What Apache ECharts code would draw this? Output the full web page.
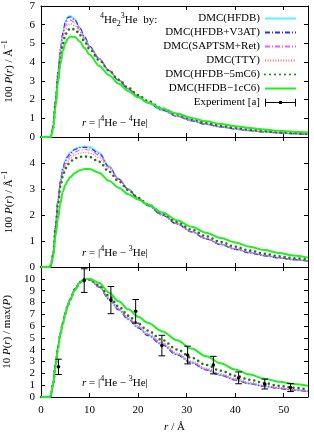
<!DOCTYPE html>
<html><head><meta charset="utf-8">
<script src="https://cdn.jsdelivr.net/npm/echarts@6/dist/echarts.min.js"></script>
<style>html,body{margin:0;padding:0;background:#fff}#c{width:314px;height:432px}</style>
</head><body><div id="c"></div>
<script>
// r grid (Å)
const R = [0,1,1.8,2,2.5,3,3.5,4,4.5,5,5.5,6,7,8,9,10,12,14,16,18,20,22,25,28,31,34,37,40,43,46,49,52,55];

// Panel 1: 100 P(r), r = |4He-4He|
const hfdb1 = [0,0,0,0,0.6,2.0,3.5,4.7,5.6,6.15,6.42,6.48,6.3,5.85,5.35,4.85,4.2,3.55,3.02,2.55,2.15,1.82,1.42,1.1,0.86,0.67,0.53,0.42,0.33,0.27,0.21,0.17,0.14];
const v3at1 = [0,0,0,0,0.6,2.0,3.5,4.68,5.55,6.1,6.37,6.42,6.25,5.82,5.33,4.85,4.18,3.55,3.02,2.56,2.16,1.83,1.43,1.11,0.87,0.68,0.54,0.43,0.34,0.27,0.22,0.18,0.14];
const sapt1 = [0,0,0,0,0.58,1.95,3.4,4.55,5.4,5.92,6.18,6.25,6.12,5.72,5.27,4.82,4.17,3.56,3.04,2.58,2.18,1.85,1.45,1.13,0.89,0.7,0.55,0.44,0.35,0.28,0.22,0.18,0.15];
const tty1 = [0,0,0,0,0.55,1.9,3.3,4.42,5.22,5.72,5.98,6.05,5.95,5.6,5.2,4.78,4.15,3.56,3.05,2.6,2.2,1.87,1.47,1.15,0.9,0.71,0.56,0.45,0.36,0.29,0.23,0.19,0.15];
const m5c6_1 = [0,0,0,0,0.5,1.8,3.15,4.2,4.95,5.45,5.7,5.8,5.75,5.45,5.08,4.7,4.1,3.55,3.06,2.62,2.24,1.92,1.52,1.2,0.95,0.76,0.6,0.49,0.39,0.32,0.26,0.21,0.17];
const c1c6_1 = [0,0,0,0,0.4,1.6,2.9,3.9,4.6,5.0,5.25,5.36,5.35,5.1,4.75,4.4,3.8,3.3,2.85,2.45,2.12,1.85,1.52,1.25,1.02,0.84,0.7,0.58,0.48,0.4,0.33,0.28,0.24];

// Panel 2: 100 P(r), r = |4He-3He|
const hfdb2 = [0,0,0,0.05,0.5,1.6,2.6,3.35,3.8,4.1,4.28,4.4,4.55,4.62,4.64,4.62,4.4,3.88,3.4,3.0,2.64,2.37,2.0,1.66,1.36,1.09,0.87,0.69,0.55,0.44,0.35,0.28,0.22];
const v3at2 = [0,0,0,0.05,0.5,1.6,2.58,3.32,3.78,4.07,4.25,4.37,4.52,4.59,4.6,4.58,4.36,3.85,3.38,2.98,2.63,2.36,1.99,1.65,1.35,1.08,0.86,0.68,0.54,0.43,0.35,0.28,0.22];
const sapt2 = [0,0,0,0.05,0.5,1.57,2.53,3.25,3.7,3.98,4.16,4.28,4.43,4.5,4.52,4.5,4.3,3.84,3.4,3.0,2.66,2.38,2.02,1.67,1.37,1.1,0.88,0.7,0.56,0.45,0.36,0.29,0.23];
const tty2 = [0,0,0,0.05,0.48,1.53,2.47,3.17,3.6,3.88,4.05,4.17,4.31,4.38,4.4,4.38,4.2,3.78,3.36,2.98,2.66,2.39,2.04,1.68,1.37,1.1,0.89,0.71,0.57,0.46,0.37,0.29,0.23];
const m5c6_2 = [0,0,0,0.05,0.47,1.5,2.42,3.1,3.5,3.77,3.94,4.05,4.18,4.24,4.25,4.23,4.05,3.67,3.3,2.96,2.66,2.41,2.06,1.73,1.44,1.18,0.96,0.78,0.63,0.51,0.41,0.34,0.28];
const c1c6_2 = [0,0,0,0.03,0.35,1.2,1.85,2.45,2.9,3.15,3.32,3.45,3.62,3.72,3.77,3.77,3.62,3.32,3.05,2.8,2.6,2.4,2.1,1.8,1.55,1.32,1.12,0.94,0.78,0.65,0.54,0.44,0.36];

// Panel 3: 10 P(r)/max(P), r = |4He-3He|
const hfdb3 = [0,0,0,0.1,1.2,2.8,4.3,5.4,6.3,7.1,7.75,8.3,9.15,9.75,10.0,9.9,9.3,8.3,7.4,6.6,5.9,5.25,4.45,3.6,2.92,2.32,1.86,1.46,1.13,0.9,0.73,0.58,0.47];
const v3at3 = [0,0,0,0.1,1.2,2.8,4.3,5.4,6.3,7.1,7.75,8.3,9.15,9.75,10.0,9.92,9.3,8.28,7.36,6.55,5.85,5.2,4.4,3.56,2.88,2.29,1.83,1.44,1.12,0.89,0.72,0.57,0.46];
const sapt3 = [0,0,0,0.1,1.18,2.78,4.28,5.4,6.3,7.1,7.75,8.3,9.15,9.75,10.0,9.92,9.35,8.35,7.45,6.65,5.96,5.3,4.52,3.64,2.96,2.36,1.9,1.5,1.17,0.94,0.76,0.61,0.49];
const tty3 = [0,0,0,0.1,1.15,2.75,4.25,5.4,6.3,7.1,7.75,8.3,9.15,9.75,10.0,9.92,9.38,8.42,7.52,6.72,6.04,5.4,4.62,3.72,3.04,2.44,1.98,1.58,1.24,1.0,0.81,0.65,0.53];
const m5c6_3 = [0,0,0,0.08,1.1,2.7,4.2,5.35,6.25,7.05,7.7,8.25,9.1,9.7,10.0,9.95,9.45,8.55,7.65,6.88,6.22,5.62,4.82,4.02,3.32,2.72,2.22,1.8,1.46,1.18,0.95,0.78,0.65];
const c1c6_3 = [0,0,0,0.05,1.0,2.6,4.1,5.3,6.2,7.0,7.65,8.2,9.05,9.65,9.95,10.0,9.65,8.85,8.1,7.42,6.8,6.28,5.55,4.8,4.1,3.45,2.86,2.32,1.9,1.55,1.3,1.1,0.95];

// Experiment [a] (panel 3)
const expR = [3.6, 8.9, 14.4, 19.5, 24.9, 30.2, 35.5, 40.7, 46.1, 51.4];
const expY = [2.55, 9.85, 8.2, 7.25, 4.35, 3.55, 2.7, 1.62, 1.1, 0.8];
const expErr = [0.65, 1.0, 1.15, 1.0, 0.87, 0.75, 0.74, 0.5, 0.42, 0.34];

const seriesNames = ['DMC(HFDB)','DMC(HFDB+V3AT)','DMC(SAPTSM+Ret)','DMC(TTY)','DMC(HFDB\u22125mC6)','DMC(HFDB\u22121cC6)'];
const expName = 'Experiment [a]';
const xTicks = {min:0, max:55, interval:10};
const xTickLabels = [0, 10, 20, 30, 40, 50];
const yRanges = [{min:0,max:7,interval:1},{min:0,max:5,interval:1},{min:0,max:11,interval:1}];
const yMaxLabel = [7, 4, 10];

const panelData = [
  [hfdb1, v3at1, sapt1, tty1, m5c6_1, c1c6_1],
  [hfdb2, v3at2, sapt2, tty2, m5c6_2, c1c6_2],
  [hfdb3, v3at3, sapt3, tty3, m5c6_3, c1c6_3]
];

const FONT = 'Liberation Serif';
const styles = [
  {color:'#5eeeff', type:'solid', width:1.5, cap:'butt'},
  {color:'#2b2bff', type:[5,2,1,2], width:1.2, cap:'butt'},
  {color:'#ff55ff', type:[5,2,1,2], width:1.2, cap:'butt'},
  {color:'#ff6666', type:[1,1.6], width:1.2, cap:'butt'},
  {color:'#1b7a1b', type:[0,5], width:2.6, cap:'round'},
  {color:'#22ee22', type:'solid', width:2, cap:'butt'}
];

const richBase = {
  i:{fontFamily:FONT, fontSize:11, fontStyle:'italic', color:'#000', lineHeight:16},
  n:{fontFamily:FONT, fontSize:11, color:'#000', lineHeight:16},
  s:{fontFamily:FONT, fontSize:8, color:'#000', verticalAlign:'top', lineHeight:8},
  b:{fontFamily:FONT, fontSize:8, color:'#000', verticalAlign:'bottom', lineHeight:8}
};

const grids = [{top:6,height:131},{top:137,height:130},{top:267,height:130}].map(g => ({
  left:41, width:267, top:g.top, height:g.height, containLabel:false, outerBoundsMode:'none', show:false
}));

const axisLine = {show:true, onZero:false, lineStyle:{color:'#000', width:1}};
const tickIn = {show:true, inside:true, length:4, lineStyle:{color:'#000', width:1}};
const labelStyle = {fontFamily:FONT, fontSize:11, color:'#000'};

const xAxes = [], yAxes = [];
[0,1,2].forEach(k => {
  xAxes.push(Object.assign({type:'value', gridIndex:k, position:'bottom', axisLine, axisTick:tickIn,
    splitLine:{show:false},
    axisLabel: k===2 ? Object.assign({show:true, margin:8,
      formatter: v => xTickLabels.includes(v) ? String(v) : ''}, labelStyle) : {show:false},
    name: k===2 ? '{i|r}{n| / Å}' : '', nameLocation:'middle', nameGap:22,
    nameTextStyle:{rich:richBase}
  }, xTicks));
  xAxes.push(Object.assign({type:'value', gridIndex:k, position:'top', axisLine, axisTick:tickIn,
    splitLine:{show:false}, axisLabel:{show:false}}, xTicks));
});
const yNames = [
  '{n|100 }{i|P}{n|(}{i|r}{n|) / Å}{s|\u22121}',
  '{n|100 }{i|P}{n|(}{i|r}{n|) / Å}{s|\u22121}',
  '{n|10 }{i|P}{n|(}{i|r}{n|) / max(}{i|P}{n|)}'
];
[0,1,2].forEach(k => {
  const rg = yRanges[k];
  yAxes.push(Object.assign({type:'value', gridIndex:k, position:'left', axisLine, axisTick:tickIn,
    splitLine:{show:false},
    axisLabel: Object.assign({show:true, margin:6,
      formatter: v => (v > yMaxLabel[k]) ? '' : String(v)}, labelStyle),
    name:yNames[k], nameLocation:'middle', nameGap:24, nameRotate:90,
    nameTextStyle:{rich:richBase}
  }, rg));
  yAxes.push(Object.assign({type:'value', gridIndex:k, position:'right', axisLine, axisTick:tickIn,
    splitLine:{show:false}, axisLabel:{show:false}}, rg));
});

const series = [];
[0,1,2].forEach(k => {
  panelData[k].forEach((arr, j) => {
    const st = styles[j];
    series.push({
      type:'line', name:seriesNames[j], xAxisIndex:2*k, yAxisIndex:2*k,
      data: R.map((r,i) => [r, arr[i]]),
      smooth:0.35, smoothMonotone:'x', showSymbol:false, symbol:'none', silent:true,
      lineStyle:{color:st.color, width:st.width, type:st.type, cap:st.cap},
      itemStyle:{color:st.color},
      clip:true, z:2+j
    });
  });
});

series.push({
  type:'custom', name:expName, xAxisIndex:4, yAxisIndex:4, z:10,
  data: expR.map((r,i) => [r, expY[i], expErr[i]]),
  itemStyle:{color:'#000'},
  renderItem: (params, api) => {
    const x = api.value(0), y = api.value(1), e = api.value(2);
    const t = api.coord([x, y+e]), b = api.coord([x, y-e]), c = api.coord([x, y]);
    const w = 3.3;
    const ls = {stroke:'#000', lineWidth:1};
    return {type:'group', children:[
      {type:'line', shape:{x1:t[0], y1:t[1], x2:b[0], y2:b[1]}, style:ls},
      {type:'line', shape:{x1:t[0]-w, y1:t[1], x2:t[0]+w, y2:t[1]}, style:ls},
      {type:'line', shape:{x1:b[0]-w, y1:b[1], x2:b[0]+w, y2:b[1]}, style:ls},
      {type:'circle', shape:{cx:c[0], cy:c[1], r:1.8}, style:{fill:'#000'}}
    ]};
  }
});

const legendData = seriesNames.map(n => ({name:n, itemStyle:{opacity:0}}));
legendData.push({name:expName, icon:'path://M0,0h1v8h-1z M0,3.5h32v1h-32z M31,0h1v8h-1z M14.5,2.5h3v3h-3z'});

const option = {
  animation:false,
  backgroundColor:'#fff',
  grid:grids, xAxis:xAxes, yAxis:yAxes, series,
  legend:{
    data:legendData, orient:'vertical', align:'right', right:17, top:12,
    itemWidth:31, itemHeight:8, itemGap:1, selectedMode:false,
    textStyle:{fontFamily:FONT, fontSize:11, color:'#000', lineHeight:13, padding:0},
    padding:0
  },
  graphic:[
    {type:'text', left:100, top:12, style:{text:'{s|4}{n|He}{b|2}{s|3}{n|He  by:}', rich:richBase}},
    {type:'text', left:82, top:115, style:{text:'{i|r}{n| = |}{s|4}{n|He \u2212 }{s|4}{n|He|}', rich:richBase}},
    {type:'text', left:82, top:245, style:{text:'{i|r}{n| = |}{s|4}{n|He \u2212 }{s|3}{n|He|}', rich:richBase}},
    {type:'text', left:82, top:375, style:{text:'{i|r}{n| = |}{s|4}{n|He \u2212 }{s|3}{n|He|}', rich:richBase}}
  ]
};
const chart = echarts.init(document.getElementById('c'));
chart.setOption(option);
</script></body></html>
